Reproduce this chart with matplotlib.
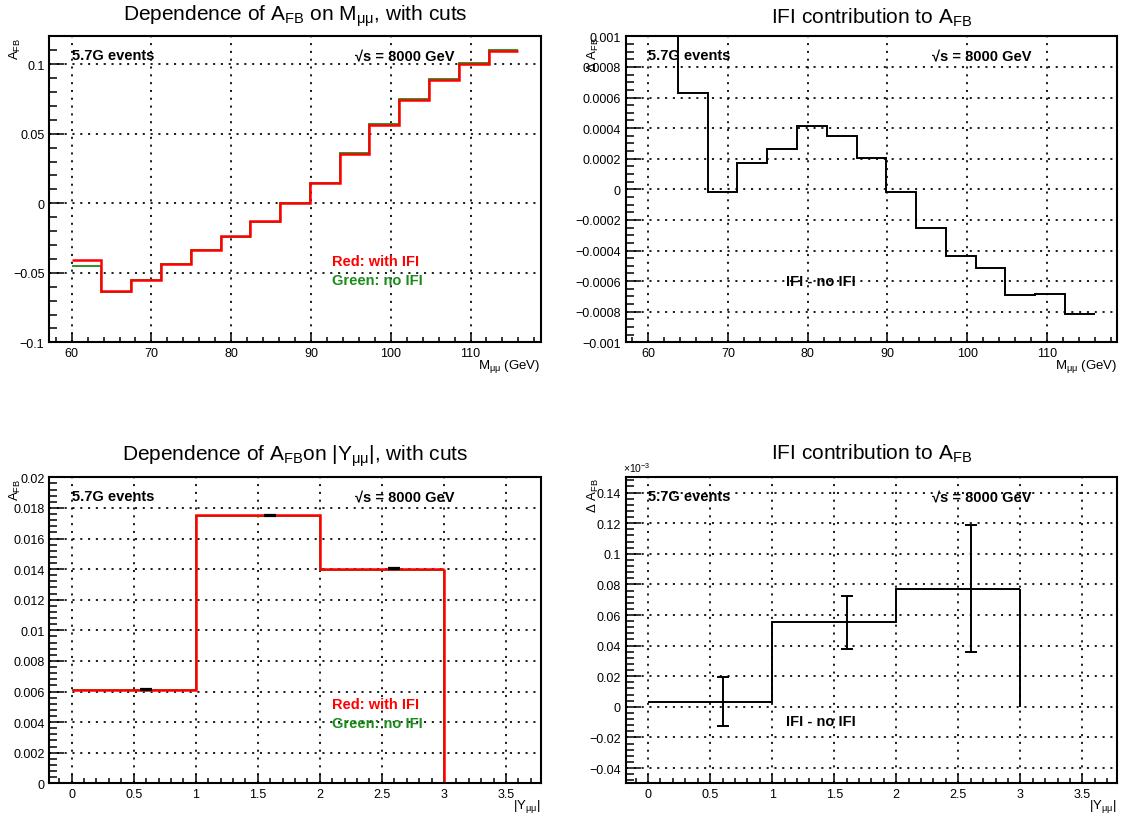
import matplotlib
matplotlib.use('Agg')
import matplotlib.pyplot as plt
from matplotlib.ticker import MultipleLocator, FuncFormatter

plt.rcParams['font.family'] = ['Liberation Sans', 'DejaVu Sans']
plt.rcParams['mathtext.fontset'] = 'custom'
plt.rcParams['mathtext.rm'] = 'Liberation Sans'
plt.rcParams['mathtext.it'] = 'Liberation Sans:italic'
plt.rcParams['mathtext.bf'] = 'Liberation Sans:bold'

# ---------------- data ----------------
m_edges = [60, 63.73, 67.47, 71.2, 74.93, 78.67, 82.4, 86.13, 89.87, 93.6,
           97.33, 101.07, 104.8, 108.53, 112.27, 116]
afb_m_ifi = [-0.0410, -0.0630, -0.0555, -0.0434, -0.0334, -0.0238, -0.0130,
             0.0004, 0.0147, 0.0357, 0.0566, 0.0744, 0.0887, 0.0998, 0.1094]
afb_m_noifi = [-0.0450, -0.0636, -0.0555, -0.0436, -0.0337, -0.0242, -0.0134,
               0.0002, 0.0147, 0.0360, 0.0570, 0.0749, 0.0894, 0.1005, 0.1102]
dafb_m = [0.0035, 0.00063, -0.00002, 0.000172, 0.000264, 0.000412, 0.000351,
          0.000205, -0.00002, -0.000252, -0.000435, -0.000513, -0.000693,
          -0.000685, -0.000817]

y_edges = [0, 1, 2, 3]
afb_y_ifi = [0.00613, 0.01752, 0.01402]
afb_y_noifi = [0.00611, 0.01748, 0.01394]
afb_y_pts_x = [0.6, 1.6, 2.6]
afb_y_pts_err = [0.00003, 0.00003, 0.00004]

dafb_y = [0.0033, 0.0552, 0.0770]          # in units of 1e-3
dafb_y_pts = [0.0034, 0.0551, 0.0774]
dafb_y_err = [0.0162, 0.0173, 0.0415]

# ---------------- helpers ----------------
def fmt(v, pos):
    v = round(v, 10)
    s = '%g' % v
    if s in ('-0', '0'):
        return '0'
    return s.replace('-', '\u2212')

GRID = dict(color='black', linestyle=(0, (1.2, 3.3)), linewidth=1.25)
TFS = 15      # title
LFS = 9       # tick labels
AFS = 9.5     # axis titles
BFS = 10.5    # bold annotations

def style(ax, xlim, ylim, xmaj, xmin, ymaj, ymin):
    ax.set_xlim(*xlim)
    ax.set_ylim(*ylim)
    ax.xaxis.set_major_locator(MultipleLocator(xmaj))
    ax.xaxis.set_minor_locator(MultipleLocator(xmin))
    ax.yaxis.set_major_locator(MultipleLocator(ymaj))
    ax.yaxis.set_minor_locator(MultipleLocator(ymin))
    ax.xaxis.set_major_formatter(FuncFormatter(fmt))
    ax.yaxis.set_major_formatter(FuncFormatter(fmt))
    ax.grid(True, which='major', **GRID)
    ax.set_axisbelow(True)
    ax.tick_params(which='both', direction='in', top=False, right=False,
                   width=1.1, labelsize=LFS, colors='black')
    ax.tick_params(axis='y', which='major', length=10.8, pad=3.5)
    ax.tick_params(axis='y', which='minor', length=5.4)
    ax.tick_params(axis='x', which='major', length=6.6, pad=3.5)
    ax.tick_params(axis='x', which='minor', length=3.3)
    for sp in ax.spines.values():
        sp.set_linewidth(1.5)
    ax.text(0.046, 0.925, '5.7G events', transform=ax.transAxes,
            fontsize=BFS, fontweight='bold', ha='left', va='baseline')
    ax.text(0.623, 0.925, '\u221as = 8000 GeV',
            transform=ax.transAxes, fontsize=BFS, fontweight='bold',
            ha='left', va='baseline')

fig = plt.figure(figsize=(11.23, 8.2), dpi=100)
W, H = 0.4376, 0.3732
ax1 = fig.add_axes([0.0439, 0.5813, W, H])
ax2 = fig.add_axes([0.5572, 0.5813, W, H])
ax3 = fig.add_axes([0.0439, 0.0435, W, H])
ax4 = fig.add_axes([0.5572, 0.0435, W, H])

RED = '#ff0000'
GREEN = '#1a8c1a'

# ---------- panel 1 ----------
style(ax1, (57.2, 118.8), (-0.1, 0.12), 10, 2, 0.05, 0.01)
ax1.stairs(afb_m_noifi, m_edges, baseline=None, color=GREEN, linewidth=1.3)
ax1.stairs(afb_m_ifi, m_edges, baseline=None, color=RED, linewidth=1.8)
ax1.text(0.5, 1.054, r'Dependence of A$_{\mathrm{FB}}$ on M$_{\mathrm{μμ}}$, with cuts',
         transform=ax1.transAxes, ha='center', va='baseline', fontsize=TFS)
ax1.text(-0.068, 1.0, r'A$_{\mathrm{FB}}$', transform=ax1.transAxes, rotation=90,
         ha='center', va='top', fontsize=AFS)
ax1.text(1.0, -0.075, r'M$_{\mathrm{μμ}}$ (GeV)', transform=ax1.transAxes,
         ha='right', va='center', fontsize=AFS)
ax1.text(0.576, 0.266, 'Red: with IFI', transform=ax1.transAxes, color=RED,
         fontsize=BFS, fontweight='bold', va='center')
ax1.text(0.576, 0.204, 'Green: no IFI', transform=ax1.transAxes, color=GREEN,
         fontsize=BFS, fontweight='bold', va='center')

# ---------- panel 2 ----------
style(ax2, (57.2, 118.8), (-0.001, 0.001), 10, 2, 0.0002, 0.00005)
ax2.stairs(dafb_m, m_edges, baseline=None, color='black', linewidth=1.4)
ax2.text(0.5, 1.045, r'IFI contribution to A$_{\mathrm{FB}}$',
         transform=ax2.transAxes, ha='center', va='baseline', fontsize=TFS)
ax2.text(-0.066, 1.0, r'Δ A$_{\mathrm{FB}}$', transform=ax2.transAxes, rotation=90,
         ha='center', va='top', fontsize=AFS)
ax2.text(1.0, -0.075, r'M$_{\mathrm{μμ}}$ (GeV)', transform=ax2.transAxes,
         ha='right', va='center', fontsize=AFS)
ax2.text(0.327, 0.201, 'IFI - no IFI', transform=ax2.transAxes,
         fontsize=BFS, fontweight='bold', va='center')

# ---------- panel 3 ----------
style(ax3, (-0.18, 3.78), (0, 0.02), 0.5, 0.1, 0.002, 0.0004)
ax3.stairs(afb_y_noifi, y_edges, baseline=None, color=GREEN, linewidth=1.3)
ax3.vlines(y_edges[-1], 0, afb_y_noifi[-1], color=GREEN, linewidth=1.3)
ax3.stairs(afb_y_ifi, y_edges, baseline=None, color=RED, linewidth=1.8)
ax3.vlines(y_edges[-1], 0, afb_y_ifi[-1], color=RED, linewidth=1.8)
ax3.errorbar(afb_y_pts_x, afb_y_ifi, yerr=afb_y_pts_err, fmt='none',
             ecolor='black', elinewidth=1.2, capsize=4, capthick=1.6)
ax3.text(0.5, 1.057, r'Dependence of A$_{\mathrm{FB}}$on |Y$_{\mathrm{μμ}}$|, with cuts',
         transform=ax3.transAxes, ha='center', va='baseline', fontsize=TFS)
ax3.text(-0.068, 1.0, r'A$_{\mathrm{FB}}$', transform=ax3.transAxes, rotation=90,
         ha='center', va='top', fontsize=AFS)
ax3.text(1.0, -0.073, r'|Y$_{\mathrm{μμ}}$|', transform=ax3.transAxes,
         ha='right', va='center', fontsize=AFS)
ax3.text(0.576, 0.259, 'Red: with IFI', transform=ax3.transAxes, color=RED,
         fontsize=BFS, fontweight='bold', va='center')
ax3.text(0.576, 0.197, 'Green: no IFI', transform=ax3.transAxes, color=GREEN,
         fontsize=BFS, fontweight='bold', va='center')

# ---------- panel 4 ----------
style(ax4, (-0.18, 3.78), (-0.05, 0.15), 0.5, 0.1, 0.02, 0.004)
ax4.stairs(dafb_y, y_edges, baseline=None, color='black', linewidth=1.4)
ax4.vlines(y_edges[-1], 0, dafb_y[-1], color='black', linewidth=1.4)
ax4.errorbar(afb_y_pts_x, dafb_y_pts, yerr=dafb_y_err, fmt='none',
             ecolor='black', elinewidth=1.4, capsize=4.5, capthick=1.4)
ax4.text(0.5, 1.062, r'IFI contribution to A$_{\mathrm{FB}}$',
         transform=ax4.transAxes, ha='center', va='baseline', fontsize=TFS)
ax4.text(-0.066, 1.0, r'Δ A$_{\mathrm{FB}}$', transform=ax4.transAxes, rotation=90,
         ha='center', va='top', fontsize=AFS)
ax4.text(-0.005, 1.012, r'×10$^{-3}$', transform=ax4.transAxes,
         ha='left', va='bottom', fontsize=7.5)
ax4.text(1.0, -0.073, r'|Y$_{\mathrm{μμ}}$|', transform=ax4.transAxes,
         ha='right', va='center', fontsize=AFS)
ax4.text(0.327, 0.204, 'IFI - no IFI', transform=ax4.transAxes,
         fontsize=BFS, fontweight='bold', va='center')

fig.savefig('out.png', dpi=100, facecolor='white')
